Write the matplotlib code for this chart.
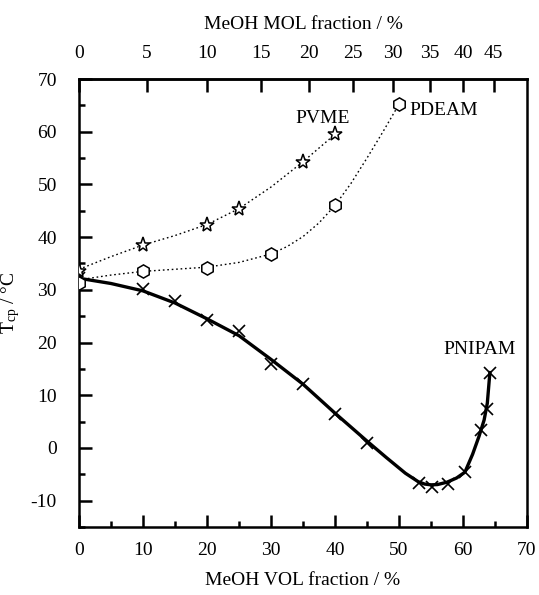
import matplotlib
matplotlib.use("Agg")
import matplotlib.pyplot as plt
from matplotlib.ticker import MultipleLocator

plt.rcParams['font.family'] = ['Liberation Serif', 'DejaVu Serif']
plt.rcParams['mathtext.fontset'] = 'custom'
plt.rcParams['mathtext.rm'] = 'Liberation Serif'
plt.rcParams['mathtext.it'] = 'Liberation Serif:italic'
plt.rcParams['axes.unicode_minus'] = False

# ---- data (MeOH volume fraction %, cloud point temperature degC) ----
pnipam_x = [0, 10, 15, 20, 25, 30, 35, 40, 45, 53.2, 55.2, 57.6, 60.3, 62.8, 63.7, 64.2]
pnipam_y = [32.2, 30.25, 27.8, 24.3, 22.2, 16.0, 12.1, 6.4, 1.0, -6.7, -7.5, -6.8, -4.6, 3.4, 7.3, 14.3]

pvme_x = [0, 10, 20, 25, 35, 40]
pvme_y = [33.5, 38.5, 42.3, 45.3, 54.3, 59.5]

pdeam_x = [0, 10, 20, 30, 40, 50]
pdeam_y = [31.3, 33.5, 34.1, 36.8, 46.0, 65.2]

# guide curves as drawn in the figure
pnipam_fit_x = [0, 5, 10, 15, 20, 25, 30, 35, 40, 45, 48, 51, 53, 54, 55, 56, 57.5, 59, 60.3,
                61.5, 62.5, 63.3, 63.8, 64.2]
pnipam_fit_y = [32.2, 31.2, 29.8, 27.5, 24.5, 21.3, 16.8, 12.1, 6.6, 1.3, -1.8, -4.8, -6.4, -6.85,
                -7.0, -6.95, -6.5, -5.7, -4.6, -1.2, 2.2, 5.3, 8.5, 14.3]

pvme_fit_x = [0, 5, 10, 15, 20, 25, 30, 35, 40]
pvme_fit_y = [33.9, 36.3, 38.5, 40.3, 42.4, 45.4, 49.5, 54.3, 59.5]

pdeam_fit_x = [0, 5, 10, 15, 20, 25, 30, 32.5, 35, 37.5, 40, 42.5, 45, 47.5, 50]
pdeam_fit_y = [31.9, 32.8, 33.5, 33.9, 34.3, 35.2, 36.8, 38.2, 40.1, 42.7, 46.0, 50.2, 55.0, 60.0, 65.2]

# top axis: MeOH mole fraction labels and their volume-fraction positions
mol_tick_labels = ['0', '5', '10', '15', '20', '25', '30', '35', '40', '45']
mol_tick_vol_pos = [0, 10.6, 20.0, 28.4, 36.0, 42.8, 49.1, 54.8, 60.0, 64.8]

FS = 14

fig = plt.figure(figsize=(5.39, 5.95), dpi=100)
ax = fig.add_axes([79/539, 1-527/595, 448/539, 448/595])

ax.plot(pnipam_fit_x, pnipam_fit_y, '-', color='black', lw=2.4, zorder=3,
        solid_joinstyle='round')
ax.plot(pvme_fit_x, pvme_fit_y, color='black', lw=1.0, dashes=(1.2, 2.0), zorder=2)
ax.plot(pdeam_fit_x, pdeam_fit_y, color='black', lw=1.0, dashes=(1.2, 2.0), zorder=2)

ax.plot(pnipam_x, pnipam_y, 'x', ms=9, mew=1.2, color='black', zorder=4)
ax.plot(pvme_x, pvme_y, '*', ms=11, mew=1.1, mfc='white', mec='black', zorder=4)
ax.plot(pdeam_x, pdeam_y, 'h', ms=9.5, mew=1.1, mfc='white', mec='black', zorder=4)

ax.text(38.0, 62.5, 'PVME', ha='center', va='center', fontsize=FS)
ax.text(51.7, 64.0, 'PDEAM', ha='left', va='center', fontsize=FS)
ax.text(68.3, 18.6, 'PNIPAM', ha='right', va='center', fontsize=FS)

ax.set_xlim(0, 70)
ax.set_ylim(-15, 70)
ax.xaxis.set_major_locator(MultipleLocator(10))
ax.xaxis.set_minor_locator(MultipleLocator(5))
ax.set_yticks([-10, 0, 10, 20, 30, 40, 50, 60, 70])
ax.yaxis.set_minor_locator(MultipleLocator(5))

for s in ax.spines.values():
    s.set_linewidth(1.8)

ax.tick_params(axis='both', which='both', direction='in', top=False, right=False,
               labelsize=FS, width=1.8, colors='black')
ax.tick_params(axis='x', which='major', length=9, pad=11)
ax.tick_params(axis='x', which='minor', length=4.5)
ax.tick_params(axis='y', which='major', length=9, pad=16)
ax.tick_params(axis='y', which='minor', length=4.5)

ax.set_xlabel('MeOH VOL fraction / %', fontsize=FS, labelpad=9)
ax.set_ylabel(r'T$_{\mathrm{cp}}$ / °C', fontsize=FS)
ax.yaxis.set_label_coords(-0.127, 0.5)

sec = ax.secondary_xaxis('top')
sec.set_xticks(mol_tick_vol_pos, mol_tick_labels)
sec.tick_params(direction='in', length=9.5, width=1.8, labelsize=FS, pad=12)
sec.spines['top'].set_linewidth(1.8)
sec.set_xlabel('MeOH MOL fraction / %', fontsize=FS, labelpad=12)

fig.savefig('out.png', dpi=100)
